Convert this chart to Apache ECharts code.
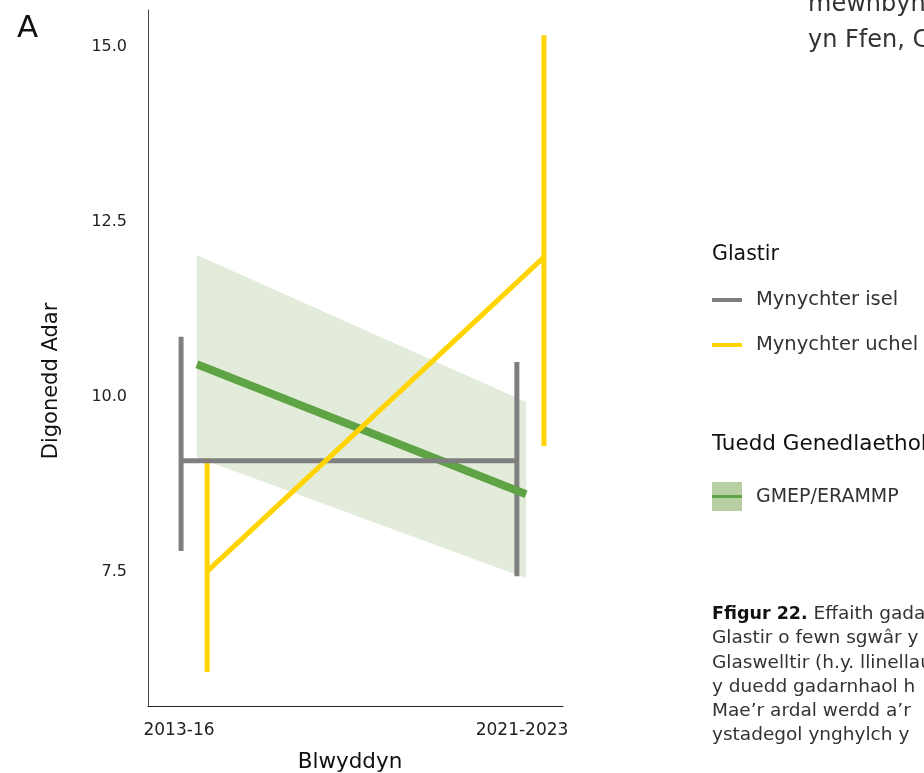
<!DOCTYPE html>
<html>
<head>
<meta charset="utf-8">
<script src="https://cdn.jsdelivr.net/npm/echarts@6/dist/echarts.min.js"></script>
<style>
html,body{margin:0;padding:0;background:#fff;}
#c{width:924px;height:773px;}
</style>
</head>
<body>
<div id="c"></div>
<script>
// ---- data ----
var periods = ['2013-16', '2021-2023'];
var yTicks = [7.5, 10.0, 12.5, 15.0];
// Glastir – low frequency (Mynychter isel)
var lowMean = [9.09, 9.09];
var lowLower = [7.80, 7.44];
var lowUpper = [10.86, 10.50];
// Glastir – high frequency (Mynychter uchel)
var highMean = [7.51, 12.00];
var highLower = [6.07, 9.30];
var highUpper = [9.13, 15.17];
// National trend GMEP/ERAMMP
var trendMean = [10.47, 8.61];
var trendLower = [9.14, 7.41];
var trendUpper = [12.03, 9.93];

// ---- layout (dodge offsets, in category units) ----
var offLow = [0.006, -0.015];
var offHigh = [0.082, 0.064];
var offTrend = [0.052, 0.012];

var FONT = '"DejaVu Sans", sans-serif';
var GRAY = '#7f7f7f', YEL = '#ffd400', GRN = '#5fa444', BAND = '#e3ecdb';

function pts(off, vals) {
  return vals.map(function (v, i) { return [i + off[i], v]; });
}
function bars(off, lo, hi) {
  return lo.map(function (v, i) { return [i + off[i], v, hi[i]]; });
}
function errRender(color) {
  return function (params, api) {
    var a = api.coord([api.value(0), api.value(1)]);
    var b = api.coord([api.value(0), api.value(2)]);
    return { type: 'line', shape: { x1: a[0], y1: a[1], x2: b[0], y2: b[1] },
      style: { stroke: color, lineWidth: 5 } };
  };
}
var bandData = bars(offTrend, trendLower, trendUpper);

function txt(x, y, s, size, extra) {
  var st = { text: s, fontSize: size, fontFamily: FONT, fill: '#333', verticalAlign: 'middle' };
  for (var k in (extra || {})) st[k] = extra[k];
  return { type: 'text', x: x, y: y, style: st };
}

var caption = ['Glastir o fewn sgwâr y', 'Glaswelltir (h.y. llinellau', 'y duedd gadarnhaol h',
  'Mae’r ardal werdd a’r', 'ystadegol ynghylch y'];

var graphics = [
  txt(17, 29, 'A', 31, { fill: '#111' }),
  { type: 'text', x: 52, y: 381, rotation: Math.PI / 2,
    style: { text: 'Digonedd Adar', fontSize: 21, fontFamily: FONT, fill: '#111', align: 'center', verticalAlign: 'middle' } },
  txt(350, 762, 'Blwyddyn', 21.5, { fill: '#111', align: 'center' }),
  txt(808, 5, 'mewnbynnau', 24),
  txt(808, 41, 'yn Ffen, Cymru', 24),
  txt(712, 255, 'Glastir', 20.5, { fill: '#111' }),
  { type: 'rect', shape: { x: 712, y: 298, width: 30, height: 4 }, style: { fill: GRAY } },
  txt(756, 300, 'Mynychter isel', 19.5),
  { type: 'rect', shape: { x: 712, y: 343, width: 30, height: 4 }, style: { fill: YEL } },
  txt(756, 345, 'Mynychter uchel', 19.5),
  txt(712, 444, 'Tuedd Genedlaethol', 21.5, { fill: '#111' }),
  { type: 'rect', shape: { x: 712, y: 482, width: 30, height: 29 }, style: { fill: '#b7cfa3' } },
  { type: 'rect', shape: { x: 712, y: 495, width: 30, height: 3 }, style: { fill: GRN } },
  txt(756, 497, 'GMEP/ERAMMP', 19),
  { type: 'text', x: 712, y: 614,
    style: { rich: { b: { fontWeight: 'bold', fontSize: 17.5, fontFamily: FONT, fill: '#111' } },
      text: '{b|Ffigur 22.} Effaith gadarnhaol', fontSize: 18.5, fontFamily: FONT, fill: '#333', verticalAlign: 'middle' } }
];
caption.forEach(function (s, i) { graphics.push(txt(712, 638.5 + i * 24.2, s, 18.5)); });

var chart = echarts.init(document.getElementById('c'), null, { renderer: 'canvas' });
chart.setOption({
  animation: false,
  backgroundColor: '#fff',
  grid: { left: 148, right: 361, top: 10, bottom: 67 },
  xAxis: {
    type: 'value', min: -0.0904, max: 1.1195,
    splitLine: { show: false },
    axisLine: { onZero: false, lineStyle: { color: '#222', width: 1 } },
    axisTick: { show: false },
    axisLabel: {
      customValues: [0, 1], margin: 16,
      formatter: function (v) { return periods[Math.round(v)]; },
      color: '#222', fontSize: 17, fontFamily: FONT
    }
  },
  yAxis: {
    type: 'value', min: 5.586, max: 15.53,
    splitLine: { show: false },
    axisLine: { show: true, onZero: false, lineStyle: { color: '#444', width: 1 } },
    axisTick: { show: false },
    axisLabel: {
      customValues: yTicks, margin: 21,
      formatter: function (v) { return v.toFixed(1); },
      color: '#222', fontSize: 16, fontFamily: FONT
    }
  },
  series: [
    {
      type: 'custom', data: bandData, silent: true,
      renderItem: function (params, api) {
        if (params.dataIndex !== 0) return null;
        var up = [], lo = [];
        for (var i = 0; i < bandData.length; i++) {
          up.push(api.coord([bandData[i][0], bandData[i][2]]));
          lo.unshift(api.coord([bandData[i][0], bandData[i][1]]));
        }
        return { type: 'polygon', shape: { points: up.concat(lo) }, style: { fill: BAND } };
      }
    },
    { type: 'line', data: pts(offTrend, trendMean), showSymbol: false,
      lineStyle: { color: GRN, width: 8 } },
    { type: 'line', data: pts(offLow, lowMean), showSymbol: false,
      lineStyle: { color: GRAY, width: 5 } },
    { type: 'custom', data: bars(offLow, lowLower, lowUpper), renderItem: errRender(GRAY) },
    { type: 'line', data: pts(offHigh, highMean), showSymbol: false,
      lineStyle: { color: YEL, width: 5 } },
    { type: 'custom', data: bars(offHigh, highLower, highUpper), renderItem: errRender(YEL) }
  ],
  graphic: graphics
});
</script>
</body>
</html>
